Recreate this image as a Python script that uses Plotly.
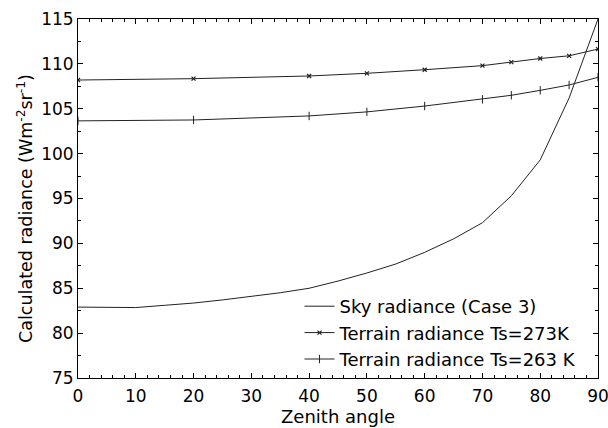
import plotly.graph_objects as go

# Sky radiance (Case 3)
sky_angle = [0, 5, 10, 15, 20, 25, 30, 35, 40, 45, 50, 55, 60, 65, 70, 75, 80, 85, 90]
sky_rad = [82.9, 82.9, 82.85, 83.1, 83.35, 83.7, 84.1, 84.5, 85.0, 85.8, 86.7, 87.7, 89.0, 90.5, 92.3, 95.3, 99.3, 106.2, 115.0]

# Terrain radiance
terr_angle = [0, 20, 40, 50, 60, 70, 75, 80, 85, 90]
terr_273 = [108.2, 108.35, 108.65, 108.95, 109.35, 109.8, 110.2, 110.6, 110.9, 111.65]
terr_263 = [103.65, 103.75, 104.2, 104.65, 105.3, 106.05, 106.5, 107.05, 107.65, 108.5]

x_ticks = [0, 10, 20, 30, 40, 50, 60, 70, 80, 90]
y_ticks = [75, 80, 85, 90, 95, 100, 105, 110, 115]

FONT = "DejaVu Sans"
fig = go.Figure()
fig.add_trace(go.Scatter(x=sky_angle, y=sky_rad, mode="lines",
                         name="Sky radiance (Case 3)",
                         line=dict(color="#222222", width=1)))
fig.add_trace(go.Scatter(x=terr_angle, y=terr_273, mode="lines+markers",
                         name="Terrain radiance Ts=273K",
                         line=dict(color="#222222", width=1),
                         marker=dict(symbol="x-thin-open", size=4,
                                     line=dict(color="#111111", width=1.2))))
fig.add_trace(go.Scatter(x=terr_angle, y=terr_263, mode="lines+markers",
                         name="Terrain radiance Ts=263 K",
                         line=dict(color="#222222", width=1),
                         marker=dict(symbol="line-ns-open", size=6,
                                     line=dict(color="#111111", width=1))))

axis_common = dict(showline=True, linecolor="black", linewidth=1, mirror="allticks",
                   ticks="inside", ticklen=5, tickcolor="black", showgrid=False,
                   zeroline=False, automargin=False, ticklabeloverflow="allow",
                   tickfont=dict(family=FONT, size=17, color="black"))
fig.update_xaxes(range=[0, 90], tickvals=x_ticks, ticklabelstandoff=3,
                 minor=dict(dtick=2, ticks="inside", ticklen=3, tickcolor="black"),
                 title=dict(text="Zenith angle", font=dict(family=FONT, size=18, color="black"),
                            standoff=0),
                 **axis_common)
fig.update_yaxes(range=[75, 115], tickvals=y_ticks,
                 minor=dict(dtick=2.5, ticks="inside", ticklen=3, tickcolor="black"),
                 **axis_common)
fig.add_annotation(text="Calculated radiance (Wm<sup>-2</sup>sr<sup>-1</sup>)",
                   xref="paper", yref="paper", x=-0.102, y=0.4735,
                   xanchor="center", yanchor="middle", textangle=-90, showarrow=False,
                   font=dict(family=FONT, size=17.5, color="black"))
fig.update_layout(width=608, height=428, margin=dict(l=78, r=10, t=19, b=50),
                  plot_bgcolor="white", paper_bgcolor="white",
                  font=dict(family=FONT, size=17, color="black"),
                  legend=dict(x=0.426, y=0.0, xanchor="left", yanchor="bottom",
                              bgcolor="rgba(0,0,0,0)", tracegroupgap=0,
                              font=dict(family=FONT, size=18, color="black"),
                              itemwidth=30))
fig.write_html("out.html", config={"displayModeBar": False},
               post_script="document.body.style.margin='0';")
